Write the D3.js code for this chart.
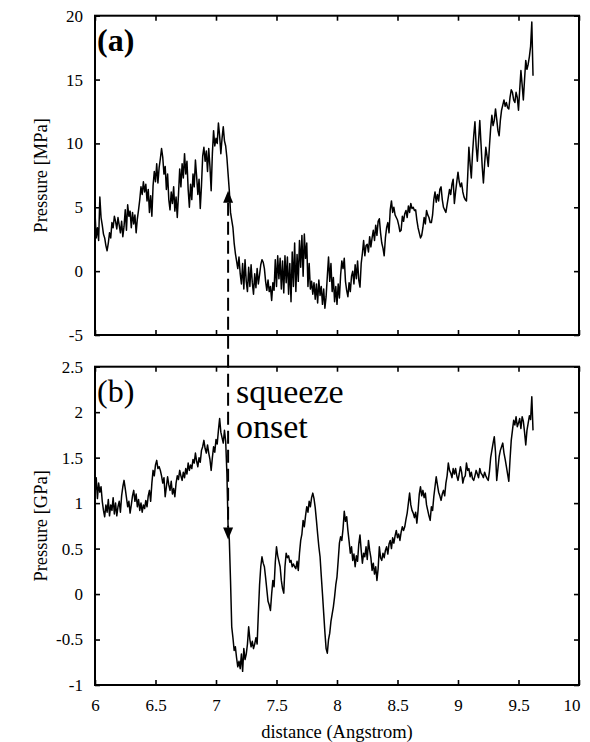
<!DOCTYPE html>
<html>
<head>
<meta charset="utf-8">
<script src="https://cdn.jsdelivr.net/npm/d3@7"></script>
<style>
  body { margin: 0; background: #fff; }
  svg text { font-family: "Liberation Serif", "Times New Roman", serif; fill: #000; }
</style>
</head>
<body>
<svg id="chart" width="590" height="742"></svg>
<script>
// Sampling grid of the distance axis (Angstrom)
const distStart = 6.0;
const distStep = 0.01;

// (a) pressure in MPa, one value per distance sample
const pressureMPa = [
  4.6, 2.6, 3.4, 2.4, 5.8, 4.2, 3.6, 2.9, 2.6, 2.0,
  1.6, 2.2, 3.0, 2.6, 3.8, 3.4, 4.3, 3.9, 3.3, 4.2,
  3.6, 3.0, 3.9, 2.7, 3.5, 4.8, 3.2, 5.2, 4.3, 4.7,
  3.4, 4.6, 3.7, 4.4, 3.0, 4.1, 4.8, 5.6, 6.6, 6.0,
  7.0, 6.2, 6.8, 5.5, 6.4, 4.6, 5.9, 4.3, 6.7, 7.8,
  7.0, 8.4, 6.9, 8.1, 8.8, 9.6, 8.9, 7.6, 8.2, 6.4,
  7.6, 5.6, 4.8, 6.2, 5.3, 6.6, 4.7, 5.8, 4.2, 6.0,
  8.0, 6.6, 8.4, 7.3, 9.2, 7.6, 8.6, 6.4, 5.0, 6.8,
  5.6, 7.6, 6.6, 8.7, 7.4, 6.0, 7.2, 4.9, 6.7, 9.0,
  9.7, 8.6, 9.4, 7.8, 9.6, 8.2, 6.3, 9.2, 11.0, 9.8,
  10.4, 10.0, 11.6, 10.6, 9.2, 10.4, 11.3, 10.2, 9.8, 8.9,
  7.6, 6.3, 4.6, 4.0, 3.4, 2.2, 1.4, 0.8, 0.2, 1.1,
  -0.2, -1.0, 0.6, -1.4, 0.9, -0.8, -1.6, 0.3, -1.2, 0.5,
  -0.9, -1.8, -0.2, -1.3, 0.2, -1.0, -0.3, 0.5, 0.9, 0.7,
  0.2, -0.8, -1.5, -0.7, -1.6, -1.2, -2.3, -0.9, -1.5, 0.9,
  -1.2, 1.2, -0.6, 1.0, -1.4, 0.8, -1.7, 1.2, -0.9, 1.1,
  -1.8, 0.6, -2.4, 1.5, -1.2, 2.2, -1.6, 1.3, -0.8, 2.4,
  0.3, 2.8, -0.4, 2.9, 1.0, 2.2, -1.2, 0.6, -1.4, -0.8,
  -1.8, -0.9, -2.2, -1.0, -2.5, -0.7, -1.9, -1.2, -2.6, -1.4,
  -2.9, -2.0, -0.4, 1.1, -0.8, 0.6, -1.6, -0.5, -2.4, -1.2,
  -2.6, -1.0, -2.1, -0.3, 0.8, 0.2, 1.0, -0.8, -1.5, -2.0,
  -0.9, -1.6, -0.4, 0.0, -1.0, 0.5, -0.6, 0.8, -0.7, -1.25,
  0.6, 1.4, 2.4, 1.2, 2.0, 2.1, 1.5, 2.7, 1.9, 2.6,
  3.2, 2.4, 3.6, 2.8, 3.9, 4.1, 3.0, 2.2, 1.8, 1.2,
  2.6, 3.4, 3.8, 3.0, 4.8, 5.5, 4.6, 5.0, 4.4, 4.2,
  4.0, 3.6, 3.1, 3.2, 4.3, 3.9, 4.5, 4.75, 4.2, 5.1,
  4.6, 5.3, 4.9, 5.0, 4.75, 4.8, 4.0, 3.4, 3.0, 2.6,
  2.8, 3.4, 4.2, 3.7, 4.75, 4.4, 4.2, 3.8, 3.8, 4.4,
  5.6, 6.2, 5.4, 6.0, 5.5, 6.4, 6.6, 5.6, 5.0, 4.8,
  4.6, 5.2, 5.8, 6.4, 6.0, 6.8, 7.2, 5.3, 6.2, 7.0,
  7.75, 7.0, 6.6, 6.9, 6.2, 5.8, 5.6, 5.5, 7.4, 9.7,
  8.4, 7.3, 9.2, 10.6, 11.7, 9.8, 8.6, 10.2, 11.8, 10.0,
  8.2, 6.9, 8.4, 9.7, 9.0, 8.2, 9.8, 11.2, 12.2, 11.4,
  11.8, 12.7, 11.9, 11.0, 10.6, 11.8, 12.6, 13.0, 13.4, 12.9,
  13.2, 12.8, 12.7, 13.6, 14.2, 14.0, 13.4, 13.2, 14.0, 13.6,
  12.6, 14.2, 15.7, 14.6, 13.4, 15.0, 16.5, 15.8, 16.2, 16.8,
  17.6, 19.5, 15.3
];

// (b) pressure in GPa, one value per distance sample
const pressureGPa = [
  1.10, 1.28, 1.05, 1.22, 1.12, 1.18, 1.02, 0.92, 0.85, 0.98,
  0.90, 1.04, 0.86, 0.98, 0.92, 1.06, 0.88, 1.00, 0.86, 0.96,
  1.02, 0.90, 1.08, 1.18, 1.25, 1.16, 1.06, 0.96, 1.02, 0.89,
  0.98, 1.08, 1.14, 1.02, 1.10, 0.96, 1.04, 0.92, 1.00, 0.90,
  0.98, 0.94, 1.03, 0.96, 1.08, 1.14, 1.02, 1.22, 1.36, 1.30,
  1.42, 1.47, 1.38, 1.40, 1.36, 1.30, 1.22, 1.28, 1.07, 1.18,
  1.29, 1.20, 1.14, 1.24, 1.10, 1.16, 1.07, 1.22, 1.30, 1.26,
  1.36, 1.30, 1.25, 1.34, 1.28, 1.38, 1.32, 1.44, 1.36, 1.42,
  1.38, 1.48, 1.44, 1.55, 1.46, 1.40, 1.50, 1.45, 1.58, 1.62,
  1.69, 1.60, 1.55, 1.64, 1.55, 1.48, 1.36, 1.50, 1.62, 1.56,
  1.70, 1.65, 1.80, 1.93, 1.78, 1.72, 1.66, 1.80, 1.68, 1.33,
  0.74, 0.60, 0.15, -0.36, -0.48, -0.62, -0.58, -0.70, -0.80, -0.74,
  -0.82, -0.66, -0.85, -0.60, -0.72, -0.66, -0.55, -0.36, -0.50, -0.58,
  -0.52, -0.60, -0.55, -0.48, -0.55, -0.21, 0.10, 0.30, 0.41, 0.34,
  0.30, 0.18, 0.05, -0.08, -0.12, -0.18, 0.00, 0.15, 0.08, 0.35,
  0.52, 0.42, 0.36, 0.30, 0.15, 0.06, 0.01, 0.30, 0.45, 0.40,
  0.42, 0.35, 0.37, 0.30, 0.33, 0.30, 0.28, 0.36, 0.26, 0.45,
  0.59, 0.66, 0.81, 0.74, 0.86, 0.96, 0.90, 1.02, 0.96, 1.06,
  1.11, 1.05, 0.95, 0.81, 0.66, 0.52, 0.41, 0.20, 0.00, -0.21,
  -0.42, -0.60, -0.65, -0.50, -0.43, -0.30, -0.22, -0.14, -0.03, 0.10,
  0.19, 0.37, 0.56, 0.63, 0.59, 0.72, 0.91, 0.80, 0.85, 0.70,
  0.58, 0.45, 0.52, 0.37, 0.44, 0.30, 0.42, 0.36, 0.55, 0.65,
  0.48, 0.34, 0.45, 0.41, 0.52, 0.38, 0.59, 0.48, 0.40, 0.26,
  0.34, 0.22, 0.30, 0.15, 0.28, 0.52, 0.40, 0.37, 0.45, 0.40,
  0.48, 0.52, 0.44, 0.55, 0.59, 0.50, 0.62, 0.56, 0.64, 0.70,
  0.62, 0.66, 0.59, 0.68, 0.74, 0.70, 0.74, 0.82, 0.89, 1.00,
  1.11, 0.98, 0.92, 0.89, 0.84, 0.90, 0.78, 0.92, 1.10, 1.18,
  1.08, 1.14, 1.06, 1.11, 0.98, 0.92, 0.86, 0.81, 0.96, 0.92,
  1.07, 1.18, 1.29, 1.20, 1.12, 1.08, 1.03, 1.10, 1.14, 1.08,
  1.22, 1.30, 1.44, 1.36, 1.33, 1.28, 1.38, 1.32, 1.38, 1.30,
  1.25, 1.32, 1.40, 1.34, 1.22, 1.28, 1.30, 1.44, 1.36, 1.38,
  1.29, 1.34, 1.27, 1.25, 1.30, 1.36, 1.32, 1.28, 1.38, 1.33,
  1.31, 1.28, 1.34, 1.30, 1.27, 1.25, 1.35, 1.50, 1.58, 1.66,
  1.73, 1.56, 1.25, 1.38, 1.51, 1.58, 1.62, 1.66, 1.55, 1.48,
  1.40, 1.32, 1.24, 1.48, 1.69, 1.80, 1.91, 1.86, 1.95, 1.84,
  1.88, 1.93, 1.82, 1.95, 1.90, 1.78, 1.64, 1.80, 1.88, 1.96,
  1.92, 2.17, 1.80
];

// Axis ticks
const xTicks = [6, 6.5, 7, 7.5, 8, 8.5, 9, 9.5, 10];
const yTicksMPa = [-5, 0, 5, 10, 15, 20];
const yTicksGPa = [-1, -0.5, 0, 0.5, 1, 1.5, 2, 2.5];

// Squeeze-onset marker: distance and the pressure where each arrow points
const onsetDistance = 7.1;
const onsetMPa = 6.3;
const onsetGPa = 0.6;
const onsetLabel = ["squeeze", "onset"];

const svg = d3.select("#chart");
const plotLeft = 95, plotRight = 579;

const x = d3.scaleLinear().domain([6, 10]).range([plotLeft, plotRight]);

const panels = [
  { label: "(a)", bold: true, title: "Pressure [MPa]", values: pressureMPa,
    ticks: yTicksMPa, domain: [-5, 20], top: 15.7, bottom: 335, showX: false },
  { label: "(b)", bold: false, title: "Pressure [GPa]", values: pressureGPa,
    ticks: yTicksGPa, domain: [-1, 2.5], top: 366.7, bottom: 685, showX: true }
];

const tickLen = 5;
const fmt = d => String(d);

panels.forEach(p => {
  const y = d3.scaleLinear().domain(p.domain).range([p.bottom, p.top]);
  p.y = y;
  const g = svg.append("g");

  // data trace
  const line = d3.line()
    .x((d, i) => x(distStart + i * distStep))
    .y(d => y(d));
  g.append("path")
    .datum(p.values)
    .attr("fill", "none")
    .attr("stroke", "#000")
    .attr("stroke-width", 1.5)
    .attr("stroke-linejoin", "round")
    .attr("d", line);

  // axes with inward ticks on all four sides
  const styleAxis = sel => {
    sel.attr("font-family", null).attr("font-size", null);
    sel.select(".domain").remove();
    sel.selectAll(".tick line").attr("stroke", "#000").attr("stroke-width", 1.6);
    sel.selectAll("text").style("font-size", "17px");
  };
  g.append("g").attr("transform", `translate(${plotLeft},0)`)
    .call(d3.axisLeft(y).tickValues(p.ticks).tickSize(-tickLen).tickPadding(12).tickFormat(fmt))
    .call(styleAxis);
  g.append("g").attr("transform", `translate(${plotRight},0)`)
    .call(d3.axisRight(y).tickValues(p.ticks).tickSize(-tickLen).tickFormat(""))
    .call(styleAxis);
  g.append("g").attr("transform", `translate(0,${p.top})`)
    .call(d3.axisTop(x).tickValues(xTicks).tickSize(-tickLen).tickFormat(""))
    .call(styleAxis);
  const xb = g.append("g").attr("transform", `translate(0,${p.bottom})`)
    .call(d3.axisBottom(x).tickValues(xTicks).tickSize(-tickLen).tickPadding(14)
      .tickFormat(p.showX ? fmt : ""))
    .call(styleAxis);
  if (p.showX) {
    xb.selectAll(".tick text").filter(d => d === 10).attr("text-anchor", "end").attr("dx", "1");
  }

  // frame
  g.append("rect")
    .attr("x", plotLeft).attr("y", p.top)
    .attr("width", plotRight - plotLeft).attr("height", p.bottom - p.top)
    .attr("fill", "none").attr("stroke", "#000").attr("stroke-width", 2);

  // panel letter
  g.append("text")
    .attr("x", plotLeft + 2).attr("y", p.top + 35.5)
    .style("font-size", "32px")
    .style("font-weight", p.bold ? "bold" : "normal")
    .text(p.label);

  // y axis title
  g.append("text")
    .attr("transform", `translate(47,${(p.top + p.bottom) / 2}) rotate(-90)`)
    .attr("text-anchor", "middle")
    .style("font-size", "18.5px")
    .text(p.title);
});

// x axis title
svg.append("text")
  .attr("x", (plotLeft + plotRight) / 2).attr("y", 738)
  .attr("text-anchor", "middle")
  .style("font-size", "18.5px")
  .text("distance (Angstrom)");

// squeeze-onset arrow linking the two panels
const ax = x(onsetDistance);
const yTip1 = panels[0].y(onsetMPa);
const yTip2 = panels[1].y(onsetGPa);
const headLen = 12, headHalf = 5;
svg.append("line")
  .attr("x1", ax).attr("x2", ax)
  .attr("y1", yTip1 + headLen).attr("y2", yTip2 - headLen)
  .attr("stroke", "#000").attr("stroke-width", 2)
  .attr("stroke-dasharray", "13,6");
svg.append("path")
  .attr("d", `M${ax},${yTip1}L${ax - headHalf},${yTip1 + headLen}L${ax + headHalf},${yTip1 + headLen}Z`)
  .attr("fill", "#000");
svg.append("path")
  .attr("d", `M${ax},${yTip2}L${ax - headHalf},${yTip2 - headLen}L${ax + headHalf},${yTip2 - headLen}Z`)
  .attr("fill", "#000");

svg.append("text")
  .attr("x", 236).attr("y", 403)
  .style("font-size", "34px")
  .selectAll("tspan").data(onsetLabel).join("tspan")
  .attr("x", 236).attr("dy", (d, i) => i === 0 ? 0 : 35)
  .text(d => d);
</script>
</body>
</html>
